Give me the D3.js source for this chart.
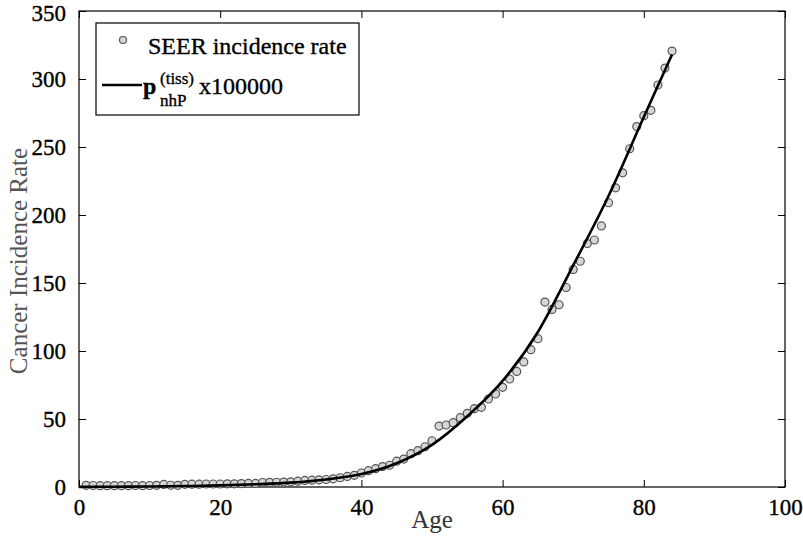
<!DOCTYPE html>
<html><head><meta charset="utf-8">
<script src="https://cdn.jsdelivr.net/npm/d3@7"></script>
<style>body{margin:0;background:#fff}svg{display:block}</style>
</head><body><svg id="c" width="803" height="537"></svg>
<script>
const ages = d3.range(1, 85);
const seerRate = [1.2,1.1,1.0,1.0,1.0,1.0,1.0,1.1,1.0,1.1,1.2,1.9,1.3,1.2,2.0,2.1,2.1,2.2,2.2,2.2,2.3,2.3,2.5,2.6,2.6,3.3,3.4,3.5,3.6,3.8,4.3,4.8,5.0,5.3,5.5,
  6.0,6.8,7.8,8.6,10.3,12.0,13.5,15.0,16.0,19.0,20.5,24.5,26.7,29.6,34.0,44.8,45.6,47.3,51.0,54.2,57.6,58.6,64.7,68.4,73.3,79.4,85.0,92.0,101.0,109.0,
  136.0,130.6,134.0,146.7,160.0,166.0,179.0,181.6,192.0,209.0,220.0,231.0,248.7,265.0,273.0,277.0,295.6,308.0,320.5];
const modelAges = [0,5,10,15,20,25,30,35,40,45,50,55,60,65,70,75,80,84];
const modelRate = [0.1,0.2,0.4,0.7,1.2,2.0,3.2,5.5,9.5,17.5,31,52,78,114,163,214,272,318];
const xTicks = [0,20,40,60,80,100];
const yTicks = [0,50,100,150,200,250,300,350];

const FF = '"Liberation Serif","Times New Roman","DejaVu Serif",serif';
const svg = d3.select("#c");
const L=79,R=785,T=11,B=487;
const x = d3.scaleLinear().domain([0,100]).range([L,R]);
const y = d3.scaleLinear().domain([0,350]).range([B,T]);
const tk=7, fs=23;
const styleText = sel => sel.style("font-family",FF).style("font-size",fs+"px").attr("fill","#000").attr("stroke","#000").attr("stroke-width",0.35);

svg.append("g").attr("transform",`translate(0,${B})`)
  .call(d3.axisBottom(x).tickValues(xTicks).tickSize(-tk).tickPadding(tk+5).tickFormat(d3.format("d")))
  .call(g=>{g.select(".domain").remove();g.selectAll("line").attr("stroke","#000");g.selectAll("text").call(styleText);});
svg.append("g").attr("transform",`translate(0,${T})`)
  .call(d3.axisTop(x).tickValues(xTicks).tickSize(-tk).tickFormat(""))
  .call(g=>{g.select(".domain").remove();g.selectAll("line").attr("stroke","#000");});
svg.append("g").attr("transform",`translate(${L},0)`)
  .call(d3.axisLeft(y).tickValues(yTicks).tickSize(-tk).tickPadding(tk+6).tickFormat(d3.format("d")))
  .call(g=>{g.select(".domain").remove();g.selectAll("line").attr("stroke","#000");
    g.selectAll("text").call(styleText).attr("dy",d=>d===350?"0.42em":"0.32em");});
svg.append("g").attr("transform",`translate(${R},0)`)
  .call(d3.axisRight(y).tickValues(yTicks).tickSize(-tk).tickFormat(""))
  .call(g=>{g.select(".domain").remove();g.selectAll("line").attr("stroke","#000");});
svg.append("rect").attr("x",L).attr("y",T).attr("width",R-L).attr("height",B-T).attr("fill","none").attr("stroke","#000").attr("stroke-width",1.2);

// markers
svg.append("g").selectAll("circle").data(ages).join("circle")
  .attr("cx",(d)=>x(d)).attr("cy",(d,i)=>y(seerRate[i])).attr("r",4)
  .attr("fill","#d6d6d6").attr("stroke","#555").attr("stroke-width",1.2);
// model line
svg.append("path").datum(modelAges)
  .attr("d",d3.line().x(d=>x(d)).y((d,i)=>y(modelRate[i])).curve(d3.curveMonotoneX))
  .attr("fill","none").attr("stroke","#000").attr("stroke-width",2.6);

// axis labels
svg.append("text").attr("x",x(50)).attr("y",528).attr("text-anchor","middle").style("font-family",FF).style("font-size","25px").attr("fill","#333").text("Age");
svg.append("text").attr("transform",`translate(27,${(T+B)/2+12}) rotate(-90)`).attr("text-anchor","middle").style("font-family",FF).style("font-size","25px").attr("fill","#555").text("Cancer Incidence Rate");

// legend
const lg = svg.append("g");
lg.append("rect").attr("x",96).attr("y",23).attr("width",263).attr("height",92).attr("fill","#fff").attr("stroke","#000").attr("stroke-width",1.2);
lg.append("circle").attr("cx",123).attr("cy",40).attr("r",3.5).attr("fill","#d6d6d6").attr("stroke","#555").attr("stroke-width",1.2);
const lt = (sel)=>sel.style("font-family",FF).attr("fill","#000").attr("stroke","#000").attr("stroke-width",0.35);
lg.append("text").attr("x",148).attr("y",54).style("font-size","24px").call(lt).text("SEER incidence rate");
lg.append("line").attr("x1",102).attr("x2",142).attr("y1",85).attr("y2",85).attr("stroke","#000").attr("stroke-width",2.6);
lg.append("text").attr("x",143).attr("y",94).style("font-size","24px").style("font-weight","bold").call(lt).text("p");
lg.append("text").attr("x",160).attr("y",84).style("font-size","17px").call(lt).text("(tiss)");
lg.append("text").attr("x",160).attr("y",106).style("font-size","17px").call(lt).text("nhP");
lg.append("text").attr("x",199).attr("y",94).style("font-size","24px").call(lt).text("x100000");
</script></body></html>
